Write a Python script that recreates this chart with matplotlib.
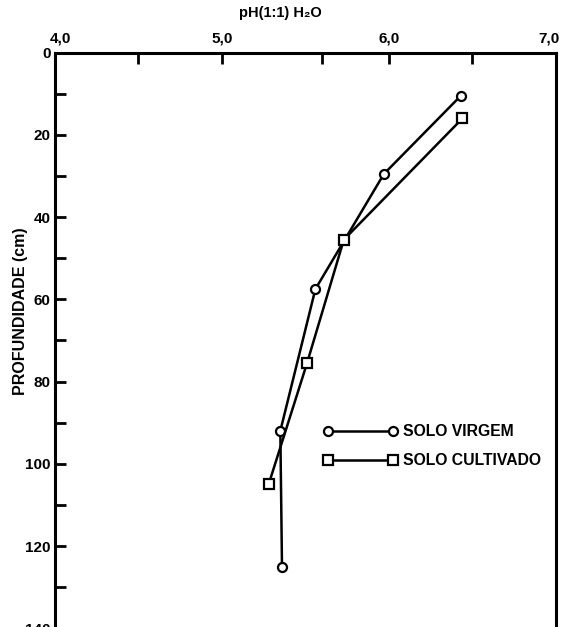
"""pH profile of virgin vs cultivated soil by depth."""
import matplotlib.pyplot as plt
from matplotlib.ticker import FixedLocator
from matplotlib.transforms import ScaledTranslation

plt.rcParams['font.family'] = ['Liberation Sans', 'DejaVu Sans']
plt.rcParams['font.weight'] = 'bold'

# Solo virgem (circles)
virgem_ph = [6.43, 5.97, 5.56, 5.35, 5.36]
virgem_depth = [10.5, 29.5, 57.5, 92, 125]

# Solo cultivado (squares)
cult_ph = [6.44, 5.73, 5.51, 5.28]
cult_depth = [16, 45.5, 75.5, 105]

x_major = [4.0, 5.0, 6.0, 7.0]
x_labels = ['4,0', '5,0', '6,0', '7,0']
x_minor = [4.5, 5.6, 6.5]
y_major = [0, 20, 40, 60, 80, 100, 120, 140]
y_minor = [10, 30, 50, 70, 90, 110, 130]

fig = plt.figure(figsize=(5.65, 6.27), dpi=100)
ax = fig.add_axes([0.097, -0.002, 0.887, 0.918])

ax.plot(virgem_ph, virgem_depth, '-', color='black', lw=1.8,
        marker='o', ms=6.5, mfc='white', mec='black', mew=1.6,
        label='SOLO VIRGEM')
ax.plot(cult_ph, cult_depth, '-', color='black', lw=1.8,
        marker='s', ms=7, mfc='white', mec='black', mew=1.6,
        label='SOLO CULTIVADO')

ax.set_xlim(4.0, 7.0)
ax.set_ylim(140, 0)

ax.xaxis.set_ticks_position('top')
ax.xaxis.set_label_position('top')
ax.set_xticks(x_major)
ax.set_xticklabels(x_labels)
ax.xaxis.set_minor_locator(FixedLocator(x_minor))
ax.set_yticks(y_major)
ax.yaxis.set_minor_locator(FixedLocator(y_minor))

ax.tick_params(axis='both', which='both', direction='in', width=2,
               length=8, labelsize=11, pad=3)
ax.tick_params(axis='x', which='both', top=True, bottom=False, pad=5)
ax.tick_params(axis='y', which='both', left=True, right=False)

# nudge the end labels inward like the original
labels = ax.get_xticklabels()
labels[0].set_transform(labels[0].get_transform() + ScaledTranslation(6 / 100, 0, fig.dpi_scale_trans))
labels[-1].set_transform(labels[-1].get_transform() + ScaledTranslation(-7 / 100, 0, fig.dpi_scale_trans))

for side in ['left', 'top', 'right']:
    ax.spines[side].set_linewidth(2.2)
ax.spines['bottom'].set_visible(False)

ax.set_xlabel('pH(1:1) H₂O', fontsize=10.5, fontweight='bold', labelpad=9)
ax.xaxis.set_label_coords(0.45, 1.062)
ax.set_ylabel('PROFUNDIDADE (cm)', fontsize=11.5, fontweight='bold', labelpad=6)
ax.yaxis.set_label_coords(-0.053, 0.55)

ax.legend(loc='upper left', bbox_to_anchor=(0.508, 0.379), frameon=False,
          numpoints=2, handlelength=4.7, handletextpad=0.35,
          labelspacing=0.88, prop={'size': 11.3, 'weight': 'bold'})

plt.savefig('out.png', dpi=100, facecolor='white')
